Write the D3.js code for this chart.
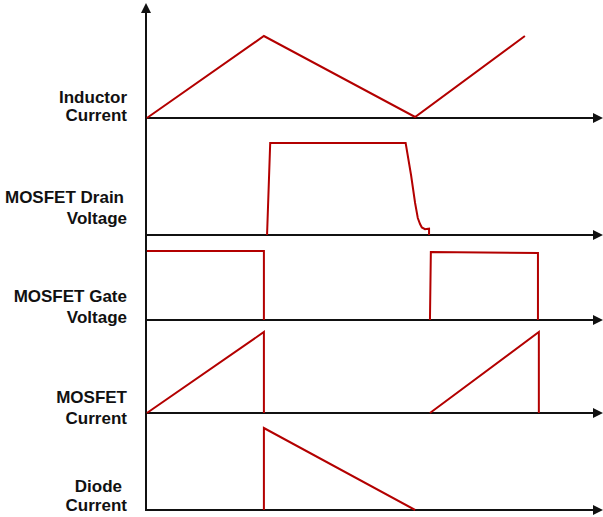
<!DOCTYPE html>
<html>
<head>
<meta charset="utf-8">
<script src="https://cdn.jsdelivr.net/npm/d3@7"></script>
<style>
  html, body { margin: 0; padding: 0; background: #fff; }
  svg { display: block; }
  .label { font-family: "Liberation Sans", Arial, sans-serif; font-weight: bold; font-size: 17px; fill: #111; }
</style>
</head>
<body>
<svg id="chart" width="603" height="517"></svg>
<script>
// Boost converter switching waveforms over one and a half switching cycles.
// Time runs 0..100 (arbitrary units); amplitudes are normalised per trace.

const traceNames = ["Inductor Current", "MOSFET Drain Voltage", "MOSFET Gate Voltage", "MOSFET Current", "Diode Current"];
const labelLines = [["Inductor", "Current"], ["MOSFET Drain", "Voltage"], ["MOSFET Gate", "Voltage"], ["MOSFET", "Current"], ["Diode", "Current"]];

// Inductor current: ramps up while the switch is on, down while the diode conducts
const inductorT = [0.2, 26.2, 59.8, 84.2];
const inductorV = [0.0, 0.82, 0.01, 0.82];

// Drain voltage: fast rise at turn-off, flat plateau, then a ringing-free fall back to zero
const drainT = [26.9, 27.6, 57.7, 58.9, 59.8, 60.4, 60.9, 61.3, 62.0, 62.7, 62.9, 62.9];
const drainV = [0.0, 0.92, 0.92, 0.60, 0.32, 0.17, 0.11, 0.075, 0.058, 0.062, 0.063, 0.0];

// Gate drive: high, low, high again
const gateT1 = [0.2, 26.2, 26.2];
const gateV1 = [0.69, 0.69, 0.0];
const gateT2 = [63.1, 63.3, 87.1, 87.1];
const gateV2 = [0.0, 0.68, 0.67, 0.0];

// MOSFET current: follows the inductor current while the switch is on
const mosfetT1 = [0.2, 26.2, 26.2];
const mosfetV1 = [0.0, 0.81, 0.0];
const mosfetT2 = [63.1, 87.3, 87.3];
const mosfetV2 = [0.0, 0.81, 0.0];

// Diode current: picks up the inductor current at turn-off and decays to zero
const diodeT = [26.2, 26.2, 59.8];
const diodeV = [0.0, 0.82, 0.0];

const svg = d3.select("#chart");
const W = 603;

const axisX = 146;
const x = d3.scaleLinear().domain([0, 100]).range([axisX, axisX + 450]);
// shared amplitude scale (pixels above each trace's baseline)
const amp = d3.scaleLinear().domain([0, 1]).range([0, 100]);

// baseline of each trace row
const rowBase = d3.scaleOrdinal().domain(traceNames).range([118, 235, 320, 413, 510]);

const red = "#b30000";
const ink = "#111";

// axes
const axes = svg.append("g");
axes.append("line")
  .attr("x1", axisX).attr("x2", axisX).attr("y1", 10).attr("y2", 511)
  .attr("stroke", ink).attr("stroke-width", 2);
axes.append("path")
  .attr("d", `M${axisX},3 L${axisX - 5},13 L${axisX + 5},13 Z`)
  .attr("fill", ink);

traceNames.forEach(name => {
  const y0 = rowBase(name);
  axes.append("line")
    .attr("x1", axisX).attr("x2", W - 8).attr("y1", y0).attr("y2", y0)
    .attr("stroke", ink).attr("stroke-width", 2);
  axes.append("path")
    .attr("d", `M${W},${y0} L${W - 10},${y0 - 5} L${W - 10},${y0 + 5} Z`)
    .attr("fill", ink);
});

// traces
const traces = [
  { row: traceNames[0], t: inductorT, v: inductorV },
  { row: traceNames[1], t: drainT, v: drainV },
  { row: traceNames[2], t: gateT1, v: gateV1 },
  { row: traceNames[2], t: gateT2, v: gateV2 },
  { row: traceNames[3], t: mosfetT1, v: mosfetV1 },
  { row: traceNames[3], t: mosfetT2, v: mosfetV2 },
  { row: traceNames[4], t: diodeT, v: diodeV }
];

const g = svg.append("g");
traces.forEach(tr => {
  const y0 = rowBase(tr.row);
  const line = d3.line()
    .x(i => x(tr.t[i]))
    .y(i => y0 - amp(tr.v[i]));
  g.append("path")
    .attr("d", line(d3.range(tr.t.length)))
    .attr("fill", "none")
    .attr("stroke", red)
    .attr("stroke-width", 2)
    .attr("stroke-linejoin", "miter");
});

// row labels, two lines each, right-aligned left of the vertical axis
const labelBaselines = [[103, 121], [203, 224], [302, 323], [403, 424], [492, 511]];
const labelShift = [[0, 0], [-3, 0], [0, 0], [0, 0], [-5, 0]];
const labels = svg.append("g");
labelLines.forEach((lines, r) => {
  lines.forEach((txt, k) => {
    labels.append("text")
      .attr("class", "label")
      .attr("x", 127 + labelShift[r][k])
      .attr("y", labelBaselines[r][k])
      .attr("text-anchor", "end")
      .text(txt);
  });
});
</script>
</body>
</html>
